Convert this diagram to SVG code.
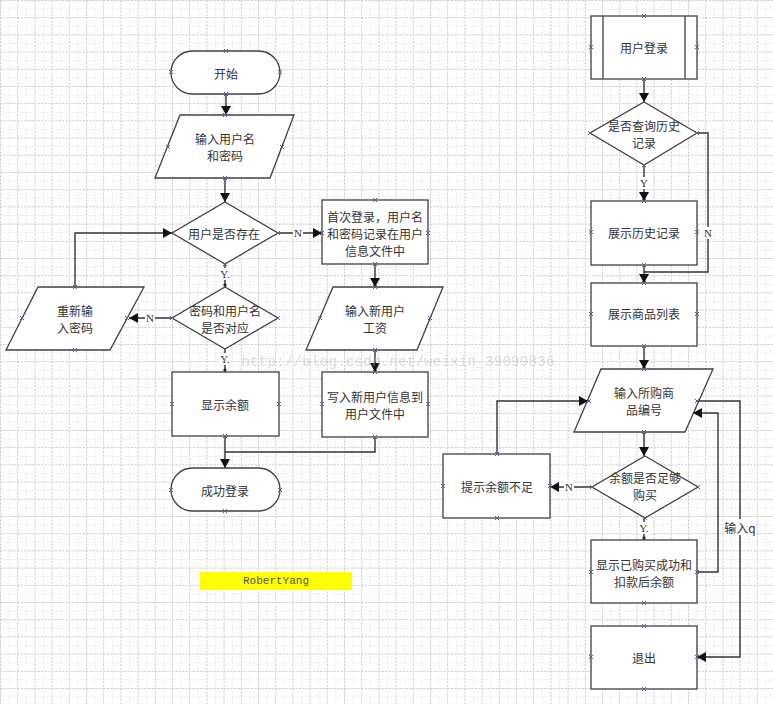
<svg xmlns="http://www.w3.org/2000/svg" xmlns:xlink="http://www.w3.org/1999/xlink" width="773" height="704" viewBox="0 0 773 704">
<defs>
<pattern id="grid" width="17.2" height="17.2" patternUnits="userSpaceOnUse">
<path d="M0 0.5H17.2M0.5 0V17.2" stroke="#c4c4c4" stroke-width="1" stroke-dasharray="2,1.5" fill="none"/>
<path d="M0 9.1H17.2M9.1 0V17.2" stroke="#dcdcdc" stroke-width="1" stroke-dasharray="1,2" fill="none"/>
</pattern>
<marker id="arr" markerWidth="9" markerHeight="10" refX="9" refY="5" orient="auto" markerUnits="userSpaceOnUse">
<path d="M0,0 L9,5 L0,10 z" fill="#111"/>
</marker>
<path id="cx" d="M-2,-2 L2,2 M-2,2 L2,-2" stroke="#5c5c9c" stroke-width="1" fill="none"/>
</defs>
<style>
.s{fill:#fff;stroke:#404040;stroke-width:1.3}
.c{fill:none;stroke:#333;stroke-width:1.4}
.a{marker-end:url(#arr)}
.t{font-family:"Noto Sans CJK SC","Noto Sans",sans-serif;font-size:12px;fill:#333;text-anchor:middle;dominant-baseline:central}
.l{font-family:"Liberation Serif",serif;font-size:11px;fill:#333;text-anchor:middle;dominant-baseline:central}
.bg{fill:#fff}
</style>
<rect width="773" height="704" fill="#fff"/>
<rect width="773" height="704" fill="url(#grid)"/>

<g id="connectors">
<line class="c a" x1="226" y1="94" x2="226" y2="115"/>
<line class="c a" x1="225" y1="178" x2="225" y2="202"/>
<line class="c" x1="225" y1="264" x2="225" y2="287"/>
<rect class="bg" x="220" y="268" width="10" height="12"/><text class="l" x="225" y="274">Y.</text>
<circle cx="225" cy="285" r="1.6" fill="#222"/>
<line class="c a" x1="172" y1="318" x2="129" y2="318"/>
<rect class="bg" x="145" y="312" width="10" height="12"/><text class="l" x="150" y="318">N</text>
<polyline class="c a" points="75,287 75,233 172,233"/>
<line class="c a" x1="278" y1="233" x2="322" y2="233"/>
<rect class="bg" x="293" y="227" width="10" height="12"/><text class="l" x="298" y="233">N</text>
<line class="c" x1="225" y1="349" x2="225" y2="372"/>
<rect class="bg" x="220" y="353" width="10" height="12"/><text class="l" x="225" y="359">Y.</text>
<circle cx="225" cy="370" r="1.6" fill="#222"/>
<line class="c a" x1="225" y1="436" x2="225" y2="468"/>
<polyline class="c" points="375,437 375,452 225,452"/>
<line class="c a" x1="375" y1="264" x2="375" y2="287"/>
<line class="c a" x1="375" y1="350" x2="375" y2="372"/>

<line class="c a" x1="644" y1="79" x2="644" y2="102"/>
<line class="c a" x1="644" y1="165" x2="644" y2="201"/>
<rect class="bg" x="639" y="177" width="10" height="12"/><text class="l" x="644" y="183">Y</text>
<polyline class="c" points="697,133 708,133 708,272 644,272"/>
<rect class="bg" x="703" y="227" width="10" height="12"/><text class="l" x="708" y="233">N</text>
<line class="c a" x1="644" y1="265" x2="644" y2="283"/>
<line class="c a" x1="644" y1="346" x2="644" y2="369"/>
<line class="c a" x1="644" y1="432" x2="644" y2="456"/>
<line class="c a" x1="592" y1="487" x2="550" y2="487"/>
<rect class="bg" x="564" y="481" width="10" height="12"/><text class="l" x="569" y="487">N</text>
<polyline class="c a" points="497,454 497,401 588,401"/>
<line class="c" x1="644" y1="518" x2="644" y2="540"/>
<rect class="bg" x="639" y="522" width="10" height="12"/><text class="l" x="644" y="528">Y.</text>
<circle cx="644" cy="538" r="1.6" fill="#222"/>
<polyline class="c a" points="697,572 718,572 718,413 693,413"/>
<polyline class="c a" points="697,401 740,401 740,657 697,657"/>
<rect class="bg" x="724" y="519" width="32" height="16"/><text class="t" x="740" y="527">输入q</text>
</g>

<g id="start"><rect class="s" x="171" y="51" width="109" height="43" rx="21.5"/><text class="t" x="226" y="73">开始</text></g>
<g id="input-user"><polygon class="s" points="180,115 294,115 270,178 155,178"/><text class="t" x="225" y="138">输入用户名</text><text class="t" x="225" y="155">和密码</text></g>
<g id="user-exists"><polygon class="s" points="225,202 278,233 225,264 172,233"/><text class="t" x="224" y="233">用户是否存在</text></g>
<g id="pwd-match"><polygon class="s" points="225,287 278,318 225,349 172,318"/><text class="t" x="225" y="310">密码和用户名</text><text class="t" x="225" y="327">是否对应</text></g>
<g id="reenter"><polygon class="s" points="38,287 144,287 110,350 6,350"/><text class="t" x="75" y="310">重新输</text><text class="t" x="75" y="327">入密码</text></g>
<g id="show-balance"><rect class="s" x="172" y="372" width="107" height="64"/><text class="t" x="225" y="404">显示余额</text></g>
<g id="login-ok"><rect class="s" x="171" y="468" width="109" height="43" rx="21.5"/><text class="t" x="225" y="490">成功登录</text></g>
<g id="first-login"><rect class="s" x="322" y="200" width="106" height="64"/><text class="t" x="375" y="216">首次登录，用户名</text><text class="t" x="375" y="233">和密码记录在用户</text><text class="t" x="375" y="250">信息文件中</text></g>
<g id="input-salary"><polygon class="s" points="333,287 443,287 417,350 306,350"/><text class="t" x="375" y="310">输入新用户</text><text class="t" x="375" y="327">工资</text></g>
<g id="write-user"><rect class="s" x="322" y="372" width="106" height="65"/><text class="t" x="375" y="396">写入新用户信息到</text><text class="t" x="375" y="413">用户文件中</text></g>
<g id="author"><rect x="200" y="572" width="152" height="18" fill="#ffff00"/><text x="276" y="581" font-family="Liberation Mono,monospace" font-size="11" fill="#555" text-anchor="middle" dominant-baseline="central">RobertYang</text></g>

<g id="user-login"><rect class="s" x="591" y="16" width="106" height="63"/><line x1="603" y1="16" x2="603" y2="79" stroke="#404040" stroke-width="1.3"/><line x1="685" y1="16" x2="685" y2="79" stroke="#404040" stroke-width="1.3"/><text class="t" x="644" y="47">用户登录</text></g>
<g id="query-history"><polygon class="s" points="644,102 697,133 644,165 590,133"/><text class="t" x="644" y="125">是否查询历史</text><text class="t" x="644" y="142">记录</text></g>
<g id="show-history"><rect class="s" x="591" y="201" width="106" height="64"/><text class="t" x="644" y="232">展示历史记录</text></g>
<g id="show-goods"><rect class="s" x="591" y="283" width="106" height="63"/><text class="t" x="644" y="313">展示商品列表</text></g>
<g id="input-goods"><polygon class="s" points="601,369 713,369 685,432 574,432"/><text class="t" x="644" y="392">输入所购商</text><text class="t" x="644" y="409">品编号</text></g>
<g id="enough"><polygon class="s" points="645,456 698,487 645,518 592,487"/><text class="t" x="645" y="477">余额是否足够</text><text class="t" x="645" y="494">购买</text></g>
<g id="insufficient"><rect class="s" x="443" y="454" width="107" height="64"/><text class="t" x="497" y="486">提示余额不足</text></g>
<g id="bought"><rect class="s" x="591" y="540" width="106" height="63"/><text class="t" x="644" y="564">显示已购买成功和</text><text class="t" x="644" y="581">扣款后余额</text></g>
<g id="quit"><rect class="s" x="591" y="626" width="106" height="63"/><text class="t" x="644" y="657">退出</text></g>

<g id="points">
<use xlink:href="#cx" x="226" y="51"/><use xlink:href="#cx" x="171" y="72"/><use xlink:href="#cx" x="280" y="72"/><use xlink:href="#cx" x="226" y="94"/>
<use xlink:href="#cx" x="225" y="115"/><use xlink:href="#cx" x="168" y="147"/><use xlink:href="#cx" x="282" y="147"/><use xlink:href="#cx" x="225" y="178"/>
<use xlink:href="#cx" x="278" y="233"/><use xlink:href="#cx" x="225" y="264"/><use xlink:href="#cx" x="172" y="318"/><use xlink:href="#cx" x="278" y="318"/>
<use xlink:href="#cx" x="75" y="287"/><use xlink:href="#cx" x="22" y="318"/><use xlink:href="#cx" x="127" y="318"/><use xlink:href="#cx" x="75" y="350"/>
<use xlink:href="#cx" x="172" y="404"/><use xlink:href="#cx" x="279" y="404"/><use xlink:href="#cx" x="225" y="436"/>
<use xlink:href="#cx" x="171" y="490"/><use xlink:href="#cx" x="280" y="490"/><use xlink:href="#cx" x="225" y="511"/>
<use xlink:href="#cx" x="375" y="200"/><use xlink:href="#cx" x="322" y="233"/><use xlink:href="#cx" x="428" y="233"/><use xlink:href="#cx" x="375" y="264"/>
<use xlink:href="#cx" x="375" y="287"/><use xlink:href="#cx" x="320" y="318"/><use xlink:href="#cx" x="430" y="318"/><use xlink:href="#cx" x="375" y="350"/>
<use xlink:href="#cx" x="375" y="372"/><use xlink:href="#cx" x="322" y="404"/><use xlink:href="#cx" x="428" y="404"/><use xlink:href="#cx" x="375" y="437"/>
<use xlink:href="#cx" x="644" y="16"/><use xlink:href="#cx" x="591" y="47"/><use xlink:href="#cx" x="697" y="47"/><use xlink:href="#cx" x="644" y="79"/>
<use xlink:href="#cx" x="590" y="133"/><use xlink:href="#cx" x="697" y="133"/><use xlink:href="#cx" x="644" y="165"/>
<use xlink:href="#cx" x="644" y="201"/><use xlink:href="#cx" x="591" y="232"/><use xlink:href="#cx" x="697" y="232"/><use xlink:href="#cx" x="644" y="265"/>
<use xlink:href="#cx" x="644" y="283"/><use xlink:href="#cx" x="591" y="314"/><use xlink:href="#cx" x="697" y="314"/><use xlink:href="#cx" x="644" y="346"/>
<use xlink:href="#cx" x="644" y="369"/><use xlink:href="#cx" x="589" y="401"/><use xlink:href="#cx" x="697" y="401"/><use xlink:href="#cx" x="644" y="432"/>
<use xlink:href="#cx" x="592" y="487"/><use xlink:href="#cx" x="698" y="487"/><use xlink:href="#cx" x="645" y="518"/>
<use xlink:href="#cx" x="497" y="454"/><use xlink:href="#cx" x="443" y="486"/><use xlink:href="#cx" x="550" y="486"/><use xlink:href="#cx" x="497" y="518"/>
<use xlink:href="#cx" x="591" y="572"/><use xlink:href="#cx" x="697" y="572"/><use xlink:href="#cx" x="644" y="603"/>
<use xlink:href="#cx" x="644" y="626"/><use xlink:href="#cx" x="591" y="657"/><use xlink:href="#cx" x="697" y="657"/><use xlink:href="#cx" x="644" y="689"/>
</g>

<text x="398" y="362" font-family="Liberation Mono,monospace" font-size="14" fill="#bdbdbd" fill-opacity="0.55" text-anchor="middle" dominant-baseline="central" letter-spacing="0.3">http://blog.csdn.net/weixin_39099836</text>
</svg>
